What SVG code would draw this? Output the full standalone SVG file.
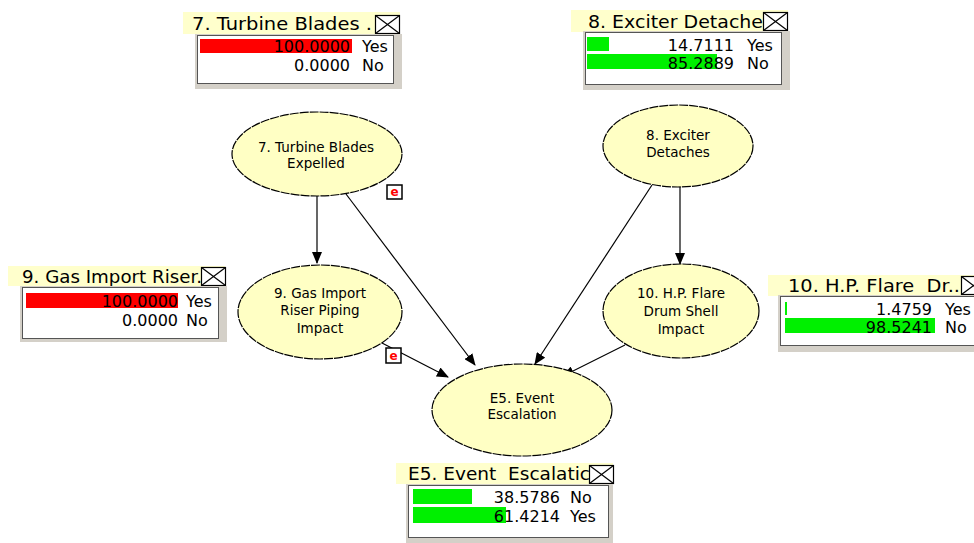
<svg xmlns="http://www.w3.org/2000/svg" width="974" height="543" viewBox="0 0 974 543">
<style>
.node{fill:#FFFFC4;stroke:#000;stroke-width:1.2;stroke-dasharray:9 1}
.nl{font-family:"DejaVu Sans",Verdana,sans-serif;font-size:13.5px;fill:#000;text-anchor:middle}
.band{fill:#FFFFCC}
.ttl{font-family:"DejaVu Sans",Verdana,sans-serif;font-size:18px;fill:#000;white-space:pre}
.body{fill:#D4D0C8}
.inner{fill:#fff;stroke:#555;stroke-width:1}
.val{font-family:"DejaVu Sans",Verdana,sans-serif;font-size:16px;fill:#000;text-anchor:end}
.lab{font-family:"DejaVu Sans",Verdana,sans-serif;font-size:16px;fill:#000}
.xb{fill:#fff;stroke:#000;stroke-width:1.2}
.xl{stroke:#000;stroke-width:1.2}
.red{fill:#FF0000}
.grn{fill:#00F000}
.edge{stroke:#000;stroke-width:1.2;fill:none;marker-end:url(#ah)}
.eb{fill:#fff;stroke:#000;stroke-width:1.5}
.et{font-family:"DejaVu Sans",Verdana,sans-serif;font-size:12px;fill:#FF0000;text-anchor:middle;font-weight:bold}
</style>
<defs>
<marker id="ah" markerWidth="12" markerHeight="10" refX="11" refY="5" orient="auto" markerUnits="userSpaceOnUse">
<path d="M0,0 L12,5 L0,10 z" fill="#000"/>
</marker>
</defs>
<rect width="974" height="543" fill="#fff"/>

<g id="connectors">
<line class="edge" x1="317" y1="196" x2="317" y2="263"/>
<line class="edge" x1="346" y1="194" x2="475" y2="365"/>
<line class="edge" x1="382" y1="343" x2="448" y2="377"/>
<line class="edge" x1="652" y1="185" x2="535" y2="364"/>
<line class="edge" x1="680" y1="187" x2="680" y2="264"/>
<line class="edge" x1="625" y1="345" x2="563" y2="376"/>
</g>

<g id="node-7">
<ellipse class="node" cx="317" cy="154" rx="85" ry="42"/>
<text class="nl" x="316" y="152">7. Turbine Blades</text>
<text class="nl" x="316" y="168">Expelled</text>
<rect class="eb" x="387" y="185" width="15" height="14"/>
<text class="et" x="394.5" y="196">e</text>
</g>

<g id="node-8">
<ellipse class="node" cx="678" cy="146" rx="75" ry="41"/>
<text class="nl" x="678" y="140">8. Exciter</text>
<text class="nl" x="678" y="157">Detaches</text>
</g>

<g id="node-9">
<ellipse class="node" cx="320" cy="312" rx="82" ry="47"/>
<text class="nl" x="320" y="298">9. Gas Import</text>
<text class="nl" x="320" y="315">Riser Piping</text>
<text class="nl" x="320" y="333">Impact</text>
<rect class="eb" x="386" y="348" width="15" height="15"/>
<text class="et" x="393.5" y="360">e</text>
</g>

<g id="node-10">
<ellipse class="node" cx="681" cy="311" rx="78" ry="47"/>
<text class="nl" x="681" y="298">10. H.P. Flare</text>
<text class="nl" x="681" y="316">Drum Shell</text>
<text class="nl" x="681" y="334">Impact</text>
</g>

<g id="node-E5">
<ellipse class="node" cx="522" cy="410" rx="90" ry="46"/>
<text class="nl" x="522" y="403">E5. Event</text>
<text class="nl" x="522" y="419">Escalation</text>
</g>

<g id="monitor-7">
<rect class="band" x="183" y="12" width="217" height="22"/>
<text class="ttl" x="192" y="30" textLength="180" lengthAdjust="spacingAndGlyphs">7. Turbine Blades .</text>
<rect class="xb" x="375.5" y="15.5" width="24" height="18"/>
<line class="xl" x1="375.5" y1="15.5" x2="399.5" y2="33.5"/>
<line class="xl" x1="399.5" y1="15.5" x2="375.5" y2="33.5"/>
<rect class="body" x="195" y="34" width="207" height="55"/>
<rect class="inner" x="197.5" y="35.5" width="196" height="48"/>
<rect class="red" x="200" y="39" width="152" height="14"/>
<text class="val" x="350" y="52">100.0000</text>
<text class="lab" x="362" y="52">Yes</text>
<text class="val" x="350" y="71">0.0000</text>
<text class="lab" x="362" y="71">No</text>
</g>

<g id="monitor-8">
<rect class="band" x="571" y="10" width="217" height="22"/>
<text class="ttl" x="588" y="28" textLength="175" lengthAdjust="spacingAndGlyphs">8. Exciter Detache</text>
<rect class="xb" x="763.5" y="12.5" width="24" height="18"/>
<line class="xl" x1="763.5" y1="12.5" x2="787.5" y2="30.5"/>
<line class="xl" x1="787.5" y1="12.5" x2="763.5" y2="30.5"/>
<rect class="body" x="583" y="31" width="207" height="59"/>
<rect class="inner" x="585.5" y="32.5" width="196" height="52"/>
<rect class="grn" x="587" y="37" width="22" height="14"/>
<text class="val" x="734" y="51">14.7111</text>
<text class="lab" x="747" y="51">Yes</text>
<rect class="grn" x="587" y="54" width="130" height="15"/>
<text class="val" x="734" y="69">85.2889</text>
<text class="lab" x="747" y="69">No</text>
</g>

<g id="monitor-9">
<rect class="band" x="8" y="266" width="217" height="20"/>
<text class="ttl" x="22" y="283" textLength="180" lengthAdjust="spacingAndGlyphs">9. Gas Import Riser.</text>
<rect class="xb" x="201.5" y="267.5" width="24" height="18"/>
<line class="xl" x1="201.5" y1="267.5" x2="225.5" y2="285.5"/>
<line class="xl" x1="225.5" y1="267.5" x2="201.5" y2="285.5"/>
<rect class="body" x="20" y="286" width="207" height="56"/>
<rect class="inner" x="22.5" y="287.5" width="196" height="51"/>
<rect class="red" x="26" y="293" width="152" height="15"/>
<text class="val" x="178" y="307">100.0000</text>
<text class="lab" x="186" y="307">Yes</text>
<text class="val" x="178" y="326">0.0000</text>
<text class="lab" x="186" y="326">No</text>
</g>

<g id="monitor-10">
<rect class="band" x="768" y="275" width="217" height="21"/>
<text class="ttl" x="788" y="292" textLength="172" lengthAdjust="spacingAndGlyphs">10. H.P. Flare  Dr..</text>
<rect class="xb" x="961.5" y="276.5" width="24" height="18"/>
<line class="xl" x1="961.5" y1="276.5" x2="985.5" y2="294.5"/>
<line class="xl" x1="985.5" y1="276.5" x2="961.5" y2="294.5"/>
<rect class="body" x="778" y="295" width="207" height="57"/>
<rect class="inner" x="780.5" y="296.5" width="196" height="49"/>
<rect class="grn" x="785" y="302" width="2" height="13"/>
<text class="val" x="932" y="315">1.4759</text>
<text class="lab" x="945" y="315">Yes</text>
<rect class="grn" x="785" y="318" width="150" height="15"/>
<text class="val" x="932" y="333">98.5241</text>
<text class="lab" x="945" y="333">No</text>
</g>

<g id="monitor-E5">
<rect class="band" x="396" y="463" width="217" height="21"/>
<text class="ttl" x="408" y="480" textLength="182" lengthAdjust="spacingAndGlyphs">E5. Event  Escalatic</text>
<rect class="xb" x="589.5" y="465.5" width="24" height="18"/>
<line class="xl" x1="589.5" y1="465.5" x2="613.5" y2="483.5"/>
<line class="xl" x1="613.5" y1="465.5" x2="589.5" y2="483.5"/>
<rect class="body" x="406" y="484" width="207" height="59"/>
<rect class="inner" x="408.5" y="485.5" width="200" height="52"/>
<rect class="grn" x="413" y="489" width="59" height="15"/>
<text class="val" x="560" y="503">38.5786</text>
<text class="lab" x="570" y="503">No</text>
<rect class="grn" x="413" y="507" width="93" height="16"/>
<text class="val" x="560" y="522">61.4214</text>
<text class="lab" x="570" y="522">Yes</text>
</g>
</svg>
